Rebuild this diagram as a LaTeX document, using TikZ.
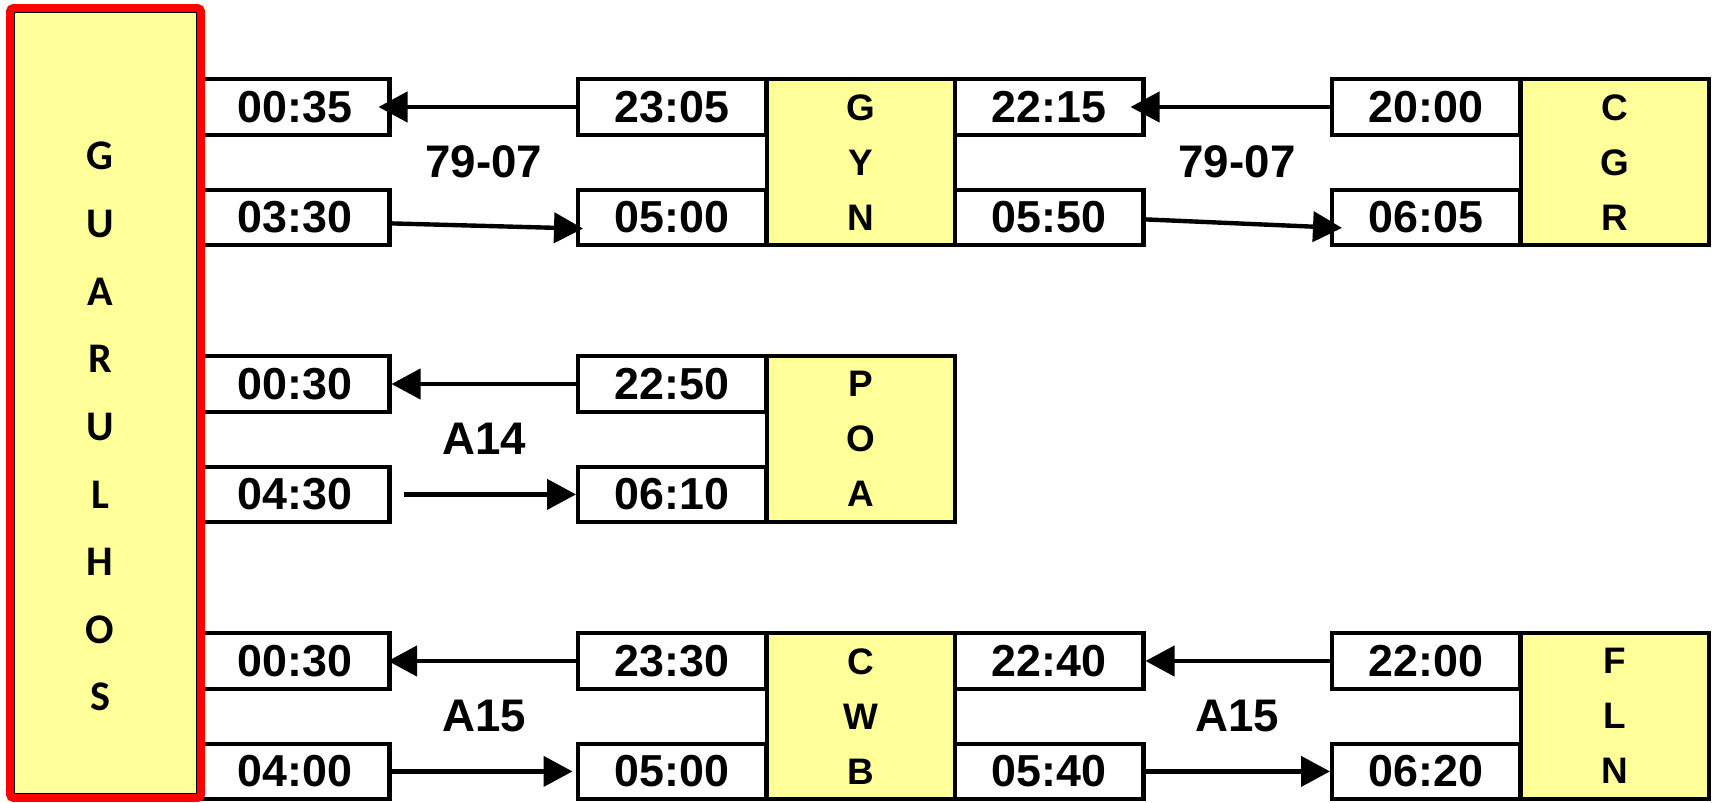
\documentclass[tikz,border=0pt]{standalone}
\usepackage{fontspec}
\setmainfont{Liberation Sans}
\newfontfamily\grufont{Carlito}
\usetikzlibrary{arrows.meta}
\definecolor{stnyellow}{RGB}{255,255,153}
\begin{document}
\begin{tikzpicture}[x=0.02cm,y=-0.02cm,
	timebox/.style={draw,line width=2.3pt,fill=white,minimum width=3.77cm,minimum height=1.106cm,inner sep=0pt,font=\fontsize{25.5}{30}\selectfont\bfseries},
	stnbox/.style={draw,line width=2.3pt,fill=stnyellow,minimum width=3.77cm,minimum height=3.314cm,inner sep=0pt,align=center,font=\fontsize{21}{31.3}\selectfont\bfseries},
	flight/.style={font=\fontsize{26}{30}\selectfont\bfseries},
	leg/.style={line width=2.5pt,-{Triangle[length=0.58cm,width=0.6cm]}}]
		\useasboundingbox (0,0) rectangle (1714,802);
		\node[timebox] (r1a1) at (295.25,107) {00:35};
		\node[timebox] (r1a2) at (295.25,217.4) {03:30};
		\node[timebox] (r1b1) at (672.25,107) {23:05};
		\node[timebox] (r1b2) at (672.25,217.4) {05:00};
		\node[stnbox] (gyn) at (860.75,162.2) {G\\Y\\N};
		\node[timebox] (r1c1) at (1049.25,107) {22:15};
		\node[timebox] (r1c2) at (1049.25,217.4) {05:50};
		\node[timebox] (r1d1) at (1426.25,107) {20:00};
		\node[timebox] (r1d2) at (1426.25,217.4) {06:05};
		\node[stnbox] (cgr) at (1614.75,162.2) {C\\G\\R};
		\node[timebox] (r2a1) at (295.25,384) {00:30};
		\node[timebox] (r2a2) at (295.25,494.4) {04:30};
		\node[timebox] (r2b1) at (672.25,384) {22:50};
		\node[timebox] (r2b2) at (672.25,494.4) {06:10};
		\node[stnbox] (poa) at (860.75,439.2) {P\\O\\A};
		\node[timebox] (r3a1) at (295.25,661) {00:30};
		\node[timebox] (r3a2) at (295.25,771.4) {04:00};
		\node[timebox] (r3b1) at (672.25,661) {23:30};
		\node[timebox] (r3b2) at (672.25,771.4) {05:00};
		\node[stnbox] (cwb) at (860.75,716.2) {C\\W\\B};
		\node[timebox] (r3c1) at (1049.25,661) {22:40};
		\node[timebox] (r3c2) at (1049.25,771.4) {05:40};
		\node[timebox] (r3d1) at (1426.25,661) {22:00};
		\node[timebox] (r3d2) at (1426.25,771.4) {06:20};
		\node[stnbox] (fln) at (1614.75,716.2) {F\\L\\N};
		\node[draw=red,line width=0.16cm,fill=stnyellow,rounded corners=2pt,minimum width=3.82cm,minimum height=15.8cm] (gru) at (105.5,403) {};
		\draw[line width=0.5pt] ([shift={(0.17cm,-0.17cm)}]gru.north west) rectangle ([shift={(-0.17cm,0.17cm)}]gru.south east);
		\node[align=center,font=\grufont\fontsize{24}{38.5}\selectfont\bfseries] (grutxt) at (100,426.7) {G\\U\\A\\R\\U\\L\\H\\O\\S};
		\node[flight] (f1) at (484,162.2) {79-07};
		\node[flight] (f2) at (1237,162.2) {79-07};
		\node[flight] (f3) at (484,439.2) {A14};
		\node[flight] (f4) at (484,716.2) {A15};
		\node[flight] (f5) at (1237,716.2) {A15};
		\draw[leg,shorten >=-0.26cm] (r1b1.west) -- (r1a1.east);
		\draw[leg,shorten >=-0.14cm] ([yshift=-0.12cm]r1a2.east) -- ([yshift=-0.22cm]r1b2.west);
		\draw[leg,shorten >=-0.3cm] (r1d1.west) -- (r1c1.east);
		\draw[leg,shorten >=-0.24cm] ([yshift=-0.04cm]r1c2.east) -- ([yshift=-0.2cm]r1d2.west);
		\draw[leg] (r2b1.west) -- (r2a1.east);
		\draw[leg,shorten <=0.24cm] (r2a2.east) -- (r2b2.west);
		\draw[leg,shorten >=-0.07cm] (r3b1.west) -- (r3a1.east);
		\draw[leg,shorten >=0.07cm] (r3a2.east) -- (r3b2.west);
		\draw[leg] (r3d1.west) -- (r3c1.east);
		\draw[leg] (r3c2.east) -- (r3d2.west);
\end{tikzpicture}
\end{document}
